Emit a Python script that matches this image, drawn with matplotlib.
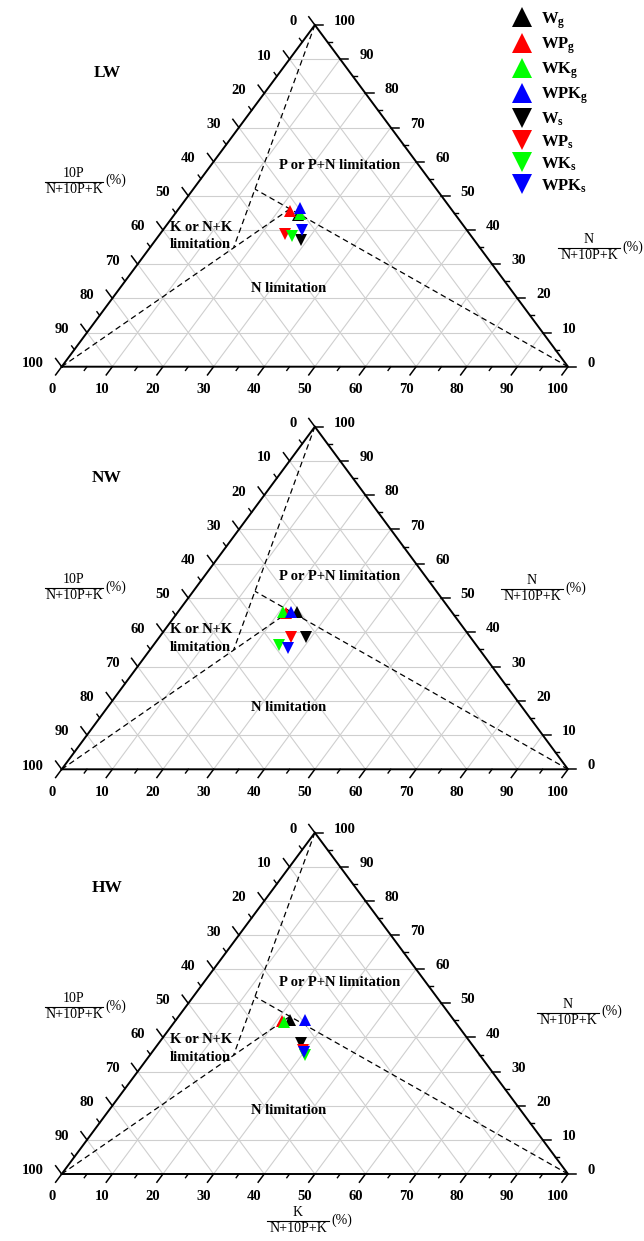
import numpy as np
import matplotlib
matplotlib.use("Agg")
import matplotlib.pyplot as plt
from matplotlib.lines import Line2D

plt.rcParams['font.family'] = 'Liberation Serif'
plt.rcParams['mathtext.fontset'] = 'custom'
plt.rcParams['mathtext.rm'] = 'Liberation Serif'
plt.rcParams['mathtext.bf'] = 'Liberation Serif:bold'
plt.rcParams['mathtext.it'] = 'Liberation Serif:italic'

"""--- data ---"""
treatments = ['LW', 'NW', 'HW']
series = ['Wg', 'WPg', 'WKg', 'WPKg', 'Ws', 'WPs', 'WKs', 'WPKs']
legend_labels = [r'$\mathbf{W}_{\mathbf{g}}$', r'$\mathbf{WP}_{\mathbf{g}}$',
                 r'$\mathbf{WK}_{\mathbf{g}}$', r'$\mathbf{WPK}_{\mathbf{g}}$',
                 r'$\mathbf{W}_{\mathbf{s}}$', r'$\mathbf{WP}_{\mathbf{s}}$',
                 r'$\mathbf{WK}_{\mathbf{s}}$', r'$\mathbf{WPK}_{\mathbf{s}}$']
colors = ['black', 'red', '#00ff00', 'blue', 'black', 'red', '#00ff00', 'blue']
markers = ['^', '^', '^', '^', 'v', 'v', 'v', 'v']

# N/(N+10P+K) and K/(N+10P+K) in %, 10P share is the rest
lw_n = [44.5, 45.6, 44.6, 46.5, 37.0, 38.8, 38.3, 40.0]
lw_k = [24.5, 22.3, 24.8, 23.8, 28.8, 24.7, 26.3, 27.4]
nw_n = [46.0, 45.5, 46.0, 45.8, 38.5, 38.7, 36.3, 35.3]
nw_k = [23.5, 21.6, 20.7, 22.4, 29.0, 26.0, 24.8, 27.0]
hw_n = [45.1, 44.8, 44.6, 45.2, 38.3, 36.2, 34.9, 35.6]
hw_k = [22.6, 21.1, 21.6, 25.5, 28.2, 29.6, 30.7, 30.1]

# critical ratios (N:P, N:K, K:P)
np_crit = 14.5
nk_crit = 2.1
kp_crit = 3.4

ticks = np.arange(0, 101, 10)
minor_ticks = np.arange(5, 100, 10)

"""--- layout (pixels) ---"""
W_PX, H_PX = 644, 1241
x_left, tri_w = 61.7, 506.3
bands = [(0, 402), (402, 807), (807, 1241)]
tri_base = [366.7, 769.3, 1174.0]
tri_h = [341.7, 342.6, 341.3]


def cart(n, k):
    # ternary (fractions) -> plane: K to the right, N up
    n = np.asarray(n, dtype=float)
    k = np.asarray(k, dtype=float)
    return k + 0.5 * n, n


def fig_xy(px, py):
    return px / W_PX, 1 - py / H_PX


def draw_frac(fig, xc, ybar, num, den, half, pct_dx):
    x0, y0 = fig_xy(xc - half, ybar)
    x1, _ = fig_xy(xc + half, ybar)
    fig.add_artist(Line2D([x0, x1], [y0, y0], transform=fig.transFigure,
                          color='black', lw=0.8))
    fig.text(*fig_xy(xc, ybar - 2), num, ha='center', va='bottom', fontsize=10)
    fig.text(*fig_xy(xc, ybar + 1), den, ha='center', va='top', fontsize=10)
    fig.text(*fig_xy(xc + half + pct_dx, ybar - 1), '(%)', ha='left',
             va='center', fontsize=10)


def ratio_point(a, b, kind):
    # intersection of two critical-ratio lines, returns (n, p, k) fractions
    if kind == 'KP_NK':
        p = 1 / (1 + a + b * a)
        return b * a * p, p, a * p
    if kind == 'NK_NP':
        n = 1 / (1 + 1 / a + 1 / b)
        return n, n / b, n / a
    p = 1 / (1 + a + b)  # NP_KP
    return a * p, p, b * p


fig = plt.figure(figsize=(W_PX / 100, H_PX / 100), dpi=100)

data_n = [lw_n, nw_n, hw_n]
data_k = [lw_k, nw_k, hw_k]
grid_c = '#cfcfcf'
handles = []

for i, name in enumerate(treatments):
    top, bot = bands[i]
    y0, h = tri_base[i], tri_h[i]
    ax = fig.add_axes([0, 1 - bot / H_PX, 1, (bot - top) / H_PX])
    ax.set_xlim(-x_left / tri_w, (W_PX - x_left) / tri_w)
    ax.set_ylim((y0 - bot) / h, (y0 - top) / h)
    ax.axis('off')

    # grid
    for v in ticks[1:-1] / 100:
        ax.plot([0.5 * v, 1 - 0.5 * v], [v, v], color=grid_c, lw=0.8, zorder=1)
        ax.plot([v, v + 0.5 * (1 - v)], [0, 1 - v], color=grid_c, lw=0.8, zorder=1)
        ax.plot([1 - v, 0.5 * (1 - v)], [0, 1 - v], color=grid_c, lw=0.8, zorder=1)

    # frame
    ax.plot([0, 1, 0.5, 0], [0, 0, 1, 0], color='black', lw=1.4, zorder=3,
            solid_joinstyle='miter')

    # ticks and tick labels
    L = 0.024
    for v in ticks / 100:
        # bottom axis: K
        ax.plot([v, v - 0.5 * L], [0, -L], color='black', lw=1.1, zorder=3, clip_on=False)
        ax.annotate(f'{int(round(v * 100))}', xy=(v, 0), xytext=(-7.2, -16.5),
                    textcoords='offset points', ha='center', va='center',
                    fontsize=10.5, fontweight='bold', annotation_clip=False)
        # right axis: N
        xr = 1 - 0.5 * v
        ax.plot([xr, xr + 0.016], [v, v], color='black', lw=1.1, zorder=3, clip_on=False)
        ax.annotate(f'{int(round(v * 100))}', xy=(xr, v), xytext=(13.7, 2.5),
                    textcoords='offset points', ha='left', va='center',
                    fontsize=10.5, fontweight='bold', annotation_clip=False)
        # left axis: 10P
        xl, yl = 0.5 * (1 - v), 1 - v
        ax.plot([xl, xl - 0.5 * L], [yl, yl + L], color='black', lw=1.1, zorder=3, clip_on=False)
        ax.annotate(f'{int(round(v * 100))}', xy=(xl, yl), xytext=(-13.0, 2.2),
                    textcoords='offset points', ha='right', va='center',
                    fontsize=10.5, fontweight='bold', annotation_clip=False)
    l2 = L * 0.45
    for v in minor_ticks / 100:
        ax.plot([v, v - 0.5 * l2], [0, -l2], color='black', lw=1.0, zorder=3, clip_on=False)
        xr = 1 - 0.5 * v
        ax.plot([xr, xr + 0.008], [v, v], color='black', lw=1.0, zorder=3, clip_on=False)
        xl, yl = 0.5 * (1 - v), 1 - v
        ax.plot([xl, xl - 0.5 * l2], [yl, yl + l2], color='black', lw=1.0, zorder=3, clip_on=False)

    # limitation boundaries
    a_pt = ratio_point(kp_crit / 10, nk_crit, 'KP_NK')
    b_pt = ratio_point(nk_crit, np_crit / 10, 'NK_NP')
    c_pt = ratio_point(np_crit / 10, kp_crit / 10, 'NP_KP')
    dash = dict(color='black', lw=0.9, ls=(0, (4.5, 3)), zorder=2)
    for start, end in [((1, 0), a_pt), ((0, 0), b_pt), ((0, 1), c_pt)]:
        xs, ys = cart([start[0], end[0]], [start[1], end[2]])
        ax.plot(xs, ys, **dash)

    # points
    n = np.array(data_n[i]) / 100
    k = np.array(data_k[i]) / 100
    xs, ys = cart(n, k)
    for j in range(len(series)):
        ln, = ax.plot(xs[j], ys[j], marker=markers[j], color=colors[j],
                      ms=8.5, mew=0, ls='none', zorder=4, label=legend_labels[j])
        if i == 0:
            handles.append(ln)

    # region and panel labels (pixel positions relative to panel)
    def ptxt(px, py, s, **kw):
        fig.text(*fig_xy(px, y0 - 366.7 + py), s, fontweight='bold', **kw)

    region_dy = [0, 8.5, 9][i]
    ptxt(340, 165.7 + region_dy, 'P or P+N limitation', ha='center', va='center', fontsize=10.5)
    ptxt(170, 227 + [0, 0, 5][i], 'K or N+K', ha='left', va='center', fontsize=10.5)
    ptxt(170, 245 + [0, 0, 5][i], 'limitation', ha='left', va='center', fontsize=10.5)
    ptxt(289, 288.3 + [0, 17, 14.5][i], 'N limitation', ha='center', va='center', fontsize=10.5)
    ptxt(107, 73.3 + [0, 2, 7][i], name, ha='center', va='center', fontsize=12.5)

    # axis titles
    draw_frac(fig, 74, y0 - 366.7 + 181.7 + [0, 4, 18][i], '10P', 'N+10P+K', 29, 2)
    draw_frac(fig, [589, 532, 568][i], y0 - 366.7 + 248.3 + [0, -62, -43][i],
              'N', 'N+10P+K', 31, 2)

draw_frac(fig, 298, 1221, 'K', 'N+10P+K', 31, 2)

fig.legend(handles, legend_labels, loc='upper left',
           bbox_to_anchor=fig_xy(514, 10), frameon=False, fontsize=12,
           markerscale=1.7, handlelength=1.0, handletextpad=0.6,
           labelspacing=0.28, borderaxespad=0, borderpad=0)

fig.savefig('out.png', dpi=100)
